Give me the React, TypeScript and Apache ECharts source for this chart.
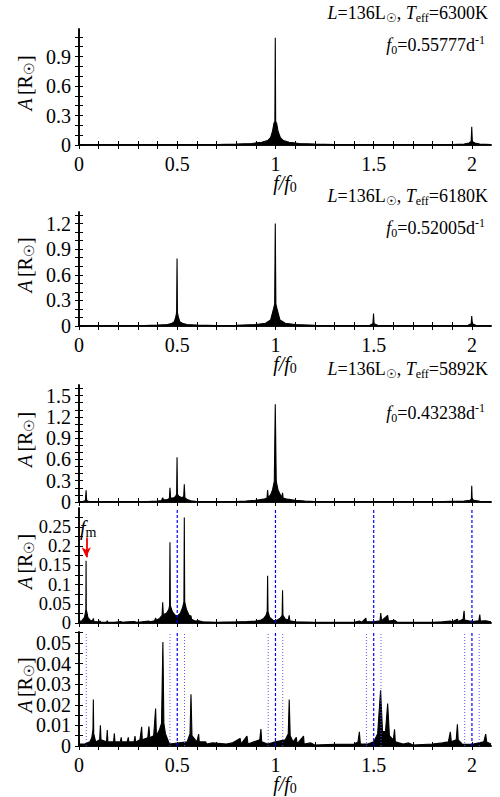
import React, { useEffect, useRef } from "react";
import * as echarts from "echarts";

const FONT = "Liberation Serif";

// x axis
const xMin = 0;
const xMax = 2.097;
const xLabelVals = [0, 0.5, 1, 1.5, 2];
const xTickVals = [0, 0.1, 0.2, 0.3, 0.4, 0.5, 0.6, 0.7, 0.8, 0.9, 1, 1.1, 1.2, 1.3, 1.4, 1.5, 1.6, 1.7, 1.8, 1.9, 2];

// y axes
const y1Max = 1.18;
const y1Labels = [0, 0.3, 0.6, 0.9];
const y1Ticks = [0, 0.1, 0.2, 0.3, 0.4, 0.5, 0.6, 0.7, 0.8, 0.9, 1.0, 1.1];
const y2Max = 1.335;
const y2Labels = [0, 0.3, 0.6, 0.9, 1.2];
const y2Ticks = [0, 0.1, 0.2, 0.3, 0.4, 0.5, 0.6, 0.7, 0.8, 0.9, 1.0, 1.1, 1.2, 1.3];
const y3Max = 1.65;
const y3Labels = [0, 0.3, 0.6, 0.9, 1.2, 1.5];
const y3Ticks = [0, 0.1, 0.2, 0.3, 0.4, 0.5, 0.6, 0.7, 0.8, 0.9, 1.0, 1.1, 1.2, 1.3, 1.4, 1.5, 1.6];
const y4Max = 0.299;
const y4Labels = [0, 0.05, 0.1, 0.15, 0.2, 0.25];
const y4Ticks = [0, 0.025, 0.05, 0.075, 0.1, 0.125, 0.15, 0.175, 0.2, 0.225, 0.25, 0.275];
const y5Max = 0.0553;
const y5Labels = [0, 0.01, 0.02, 0.03, 0.04, 0.05];
const y5Ticks = [0, 0.005, 0.01, 0.015, 0.02, 0.025, 0.03, 0.035, 0.04, 0.045, 0.05, 0.055];

// spectra: [f/f0, amplitude]
const spec1: [number, number][] = [
  [0, 0.001], [0.5, 0.002], [0.7, 0.005], [0.8, 0.009], [0.88, 0.016], [0.93, 0.028], [0.96, 0.045],
  [0.975, 0.075], [0.985, 0.14], [0.992, 0.22], [0.997, 0.24], [0.999, 1.09], [1.001, 0.24], [1.006, 0.22],
  [1.013, 0.14], [1.025, 0.075], [1.04, 0.045], [1.07, 0.028], [1.12, 0.016], [1.2, 0.009], [1.3, 0.005],
  [1.5, 0.002], [1.9, 0.004], [1.96, 0.01], [1.985, 0.02], [1.996, 0.035], [1.999, 0.185], [2.002, 0.035],
  [2.015, 0.02], [2.04, 0.01], [2.097, 0.004],
];
const spec2: [number, number][] = [
  [0, 0.001], [0.3, 0.003], [0.4, 0.01], [0.45, 0.018], [0.47, 0.028], [0.485, 0.05], [0.493, 0.11],
  [0.497, 0.16], [0.499, 0.79], [0.501, 0.16], [0.505, 0.11], [0.513, 0.05], [0.53, 0.028], [0.55, 0.018],
  [0.6, 0.01], [0.7, 0.004], [0.8, 0.008], [0.9, 0.018], [0.95, 0.033], [0.975, 0.07], [0.99, 0.2],
  [0.996, 0.26], [0.999, 1.2], [1.002, 0.26], [1.008, 0.2], [1.023, 0.07], [1.05, 0.033], [1.1, 0.018],
  [1.2, 0.008], [1.4, 0.003], [1.48, 0.008], [1.496, 0.025], [1.499, 0.145], [1.502, 0.025], [1.52, 0.008],
  [1.9, 0.002], [1.98, 0.008], [1.996, 0.025], [1.999, 0.117], [2.002, 0.025], [2.02, 0.008], [2.097, 0.002],
];
const spec3: [number, number][] = [
  [0, 0.003], [0.02, 0.008], [0.033, 0.02], [0.036, 0.165], [0.039, 0.02], [0.05, 0.008], [0.072, 0.005],
  [0.073, 0.012], [0.075, 0.004], [0.2, 0.004], [0.35, 0.006], [0.4, 0.012], [0.42, 0.022], [0.426, 0.06],
  [0.43, 0.03], [0.45, 0.035], [0.46, 0.05], [0.463, 0.2], [0.466, 0.06], [0.48, 0.055], [0.492, 0.08],
  [0.497, 0.11], [0.499, 0.63], [0.501, 0.11], [0.508, 0.08], [0.525, 0.06], [0.533, 0.08], [0.536, 0.25],
  [0.539, 0.06], [0.55, 0.035], [0.57, 0.018], [0.6, 0.008], [0.7, 0.005], [0.8, 0.008], [0.85, 0.015],
  [0.9, 0.025], [0.94, 0.04], [0.957, 0.055], [0.96, 0.17], [0.963, 0.065], [0.975, 0.1], [0.985, 0.17],
  [0.994, 0.29], [0.999, 1.38], [1.004, 0.29], [1.013, 0.17], [1.025, 0.1], [1.033, 0.065], [1.036, 0.13],
  [1.039, 0.055], [1.06, 0.04], [1.1, 0.025], [1.15, 0.015], [1.2, 0.008], [1.3, 0.004], [1.5, 0.005],
  [1.8, 0.003], [1.96, 0.012], [1.99, 0.025], [1.997, 0.04], [1.999, 0.23], [2.001, 0.04], [2.01, 0.025],
  [2.04, 0.01], [2.097, 0.005],
];
const spec4: [number, number][] = [
  [0, 0.004], [0.015, 0.006], [0.028, 0.015], [0.033, 0.028], [0.035, 0.035], [0.036, 0.162], [0.037, 0.035],
  [0.04, 0.028], [0.045, 0.015], [0.055, 0.008], [0.068, 0.005], [0.073, 0.012], [0.076, 0.004], [0.1, 0.003],
  [0.108, 0.005], [0.11, 0.002], [0.14, 0.002], [0.144, 0.006], [0.146, 0.002], [0.18, 0.002], [0.215, 0.004],
  [0.218, 0.002], [0.25, 0.003], [0.285, 0.004], [0.288, 0.002], [0.32, 0.003], [0.356, 0.005], [0.359, 0.003],
  [0.385, 0.006], [0.39, 0.013], [0.393, 0.007], [0.41, 0.012], [0.423, 0.02], [0.426, 0.054], [0.429, 0.022],
  [0.445, 0.025], [0.457, 0.035], [0.461, 0.045], [0.463, 0.21], [0.465, 0.045], [0.475, 0.03], [0.49, 0.02],
  [0.5, 0.018], [0.515, 0.025], [0.527, 0.04], [0.534, 0.055], [0.536, 0.274], [0.538, 0.055], [0.547, 0.035],
  [0.56, 0.02], [0.57, 0.018], [0.573, 0.01], [0.59, 0.005], [0.609, 0.006], [0.63, 0.003], [0.7, 0.002],
  [0.8, 0.003], [0.855, 0.004], [0.9, 0.005], [0.926, 0.008], [0.94, 0.012], [0.952, 0.02], [0.958, 0.03],
  [0.96, 0.123], [0.962, 0.03], [0.97, 0.015], [0.99, 0.006], [1.01, 0.008], [1.025, 0.013], [1.034, 0.02],
  [1.036, 0.085], [1.038, 0.02], [1.05, 0.01], [1.065, 0.008], [1.07, 0.02], [1.073, 0.006], [1.1, 0.003],
  [1.2, 0.002], [1.4, 0.002], [1.427, 0.005], [1.44, 0.002], [1.46, 0.013], [1.463, 0.003], [1.5, 0.003],
  [1.532, 0.006], [1.536, 0.026], [1.54, 0.006], [1.571, 0.02], [1.575, 0.005], [1.606, 0.007], [1.62, 0.002],
  [1.8, 0.002], [1.85, 0.003], [1.89, 0.005], [1.9, 0.003], [1.926, 0.01], [1.93, 0.004], [1.955, 0.01],
  [1.96, 0.032], [1.963, 0.008], [2.0, 0.004], [2.035, 0.006], [2.04, 0.022], [2.043, 0.005], [2.07, 0.006],
  [2.097, 0.003],
];
const spec5: [number, number][] = [
  [0, 0.001], [0.03, 0.001], [0.055, 0.002], [0.065, 0.004], [0.071, 0.008], [0.073, 0.0226], [0.075, 0.006],
  [0.085, 0.002], [0.105, 0.003], [0.109, 0.0101], [0.112, 0.003], [0.14, 0.002], [0.144, 0.0077], [0.147, 0.002],
  [0.176, 0.002], [0.18, 0.0061], [0.183, 0.002], [0.21, 0.002], [0.215, 0.0042], [0.218, 0.002], [0.245, 0.002],
  [0.251, 0.0042], [0.254, 0.002], [0.28, 0.002], [0.285, 0.0048], [0.288, 0.002], [0.31, 0.003], [0.319, 0.0093],
  [0.322, 0.003], [0.35, 0.004], [0.356, 0.0095], [0.36, 0.004], [0.38, 0.005], [0.39, 0.0182], [0.394, 0.005],
  [0.41, 0.008], [0.42, 0.011], [0.427, 0.0504], [0.432, 0.011], [0.44, 0.006], [0.46, 0.001], [0.55, 0.002],
  [0.565, 0.006], [0.57, 0.0251], [0.575, 0.005], [0.6, 0.002], [0.609, 0.0058], [0.612, 0.002], [0.645, 0.002],
  [0.65, 0.001], [0.68, 0.0015], [0.75, 0.001], [0.78, 0.0015], [0.82, 0.0037], [0.825, 0.001], [0.855, 0.0048],
  [0.86, 0.001], [0.89, 0.002], [0.92, 0.003], [0.926, 0.0082], [0.93, 0.002], [0.96, 0.001], [1.0, 0.002],
  [1.05, 0.003], [1.065, 0.006], [1.07, 0.0226], [1.075, 0.005], [1.09, 0.002], [1.106, 0.0042], [1.11, 0.001],
  [1.143, 0.0048], [1.146, 0.001], [1.18, 0.0015], [1.2, 0.0005], [1.3, 0.0008], [1.4, 0.001], [1.42, 0.002],
  [1.427, 0.0069], [1.432, 0.001], [1.47, 0.001], [1.5, 0.002], [1.52, 0.006], [1.535, 0.027], [1.545, 0.007],
  [1.56, 0.007], [1.571, 0.0206], [1.58, 0.005], [1.6, 0.003], [1.606, 0.0081], [1.61, 0.002], [1.65, 0.001],
  [1.678, 0.0015], [1.7, 0.0005], [1.8, 0.001], [1.85, 0.0015], [1.88, 0.002], [1.89, 0.0069], [1.895, 0.002],
  [1.92, 0.003], [1.926, 0.0105], [1.93, 0.003], [1.95, 0.001], [2.0, 0.0008], [2.06, 0.002], [2.07, 0.0058],
  [2.075, 0.002], [2.097, 0.001],
];

// harmonic lines and side-peak lines (f/f0)
const harmonics = [0.5, 1, 1.5, 2];
const fm = 0.037;
const sideLines = [0.037, 0.463, 0.537, 0.963, 1.037, 1.463, 1.537, 1.963, 2.037];
const arrowFrom = 0.222;
const arrowTo = 0.171;

const titles = [
  { L: "136", T: "6300", f0: "0.55777" },
  { L: "136", T: "6180", f0: "0.52005" },
  { L: "136", T: "5892", f0: "0.43238" },
];

const panels = [
  { top: 29, height: 116, data: spec1, yMax: y1Max, yLabels: y1Labels, yTicks: y1Ticks, xLabels: true, fs: 20 },
  { top: 212, height: 114, data: spec2, yMax: y2Max, yLabels: y2Labels, yTicks: y2Ticks, xLabels: true, fs: 20 },
  { top: 385, height: 117, data: spec3, yMax: y3Max, yLabels: y3Labels, yTicks: y3Ticks, xLabels: false, fs: 20 },
  { top: 508, height: 115, data: spec4, yMax: y4Max, yLabels: y4Labels, yTicks: y4Ticks, xLabels: false, fs: 18.5 },
  { top: 632, height: 114, data: spec5, yMax: y5Max, yLabels: y5Labels, yTicks: y5Ticks, xLabels: true, fs: 20 },
];

const LEFT = 79;
const WIDTH = 412;

const rich = {
  n: { fontFamily: FONT, fontSize: 18, lineHeight: 22, verticalAlign: "middle", fill: "#000" },
  i: { fontFamily: FONT, fontSize: 18, lineHeight: 22, fontStyle: "italic", verticalAlign: "middle", fill: "#000" },
  s: { fontFamily: FONT, fontSize: 12, lineHeight: 12, verticalAlign: "bottom", fill: "#000" },
  u: { fontFamily: FONT, fontSize: 12, lineHeight: 12, verticalAlign: "top", fill: "#000" },
  ib: { fontFamily: FONT, fontSize: 20, lineHeight: 22, fontStyle: "italic", verticalAlign: "middle", fill: "#000" },
  nb: { fontFamily: FONT, fontSize: 20, lineHeight: 22, verticalAlign: "middle", fill: "#000" },
  sb: { fontFamily: FONT, fontSize: 14, lineHeight: 14, verticalAlign: "bottom", fill: "#000" },
};

function buildOption() {
  const grid: any[] = [];
  const xAxis: any[] = [];
  const yAxis: any[] = [];
  const series: any[] = [];
  const graphic: any[] = [];
  const axisLine = { show: true, lineStyle: { color: "#000", width: 1.6 } };
  const tick = (vals: number[]) => ({
    show: true, inside: true, length: 4, customValues: vals, lineStyle: { color: "#000", width: 1 },
  });
  const fmtLabel = (v: number) => `{t|${String(v)}}`;

  panels.forEach((p, i) => {
    const tickRich = { t: { fontFamily: FONT, fontSize: p.fs, lineHeight: 13, color: "#000" } };
    grid.push({ left: LEFT, top: p.top, width: WIDTH, height: p.height });
    xAxis.push({
      type: "value", gridIndex: i, min: xMin, max: xMax, position: "bottom",
      axisLine, splitLine: { show: false }, axisTick: tick(xTickVals),
      axisLabel: {
        show: p.xLabels, customValues: xLabelVals, margin: 12, formatter: fmtLabel, rich: tickRich,
        fontSize: p.fs, lineHeight: 13, showMinLabel: true, showMaxLabel: true, hideOverlap: false,
      },
    });
    xAxis.push({
      type: "value", gridIndex: i, min: xMin, max: xMax, position: "top",
      axisLine, splitLine: { show: false }, axisTick: tick(xTickVals), axisLabel: { show: false },
    });
    yAxis.push({
      type: "value", gridIndex: i, min: 0, max: p.yMax, position: "left",
      axisLine, splitLine: { show: false }, axisTick: tick(p.yTicks),
      axisLabel: {
        show: true, customValues: p.yLabels, margin: 8, formatter: fmtLabel, rich: tickRich,
        fontSize: p.fs, lineHeight: 13, showMinLabel: true, showMaxLabel: true, hideOverlap: false,
      },
    });
    yAxis.push({
      type: "value", gridIndex: i, min: 0, max: p.yMax, position: "right",
      axisLine, splitLine: { show: false }, axisTick: tick(p.yTicks), axisLabel: { show: false },
    });
    series.push({
      type: "line", xAxisIndex: i * 2, yAxisIndex: i * 2, data: p.data,
      showSymbol: false, symbol: "none", silent: true, clip: true, z: 2,
      color: "#000",
      lineStyle: { color: "#000", width: 1.1 },
      areaStyle: { color: "#000", opacity: 1 },
    });

    if (i === 3 || i === 4) {
      harmonics.forEach((h) =>
        series.push({
          type: "line", xAxisIndex: i * 2, yAxisIndex: i * 2, data: [[h, 0], [h, p.yMax]],
          showSymbol: false, symbol: "none", silent: true, z: 4, color: "#0000ff",
          lineStyle: { color: "#0000ff", width: 1.2, type: [3, 2], opacity: 1 },
        })
      );
    }
    if (i === 4) {
      sideLines.forEach((v) =>
        series.push({
          type: "line", xAxisIndex: i * 2, yAxisIndex: i * 2, data: [[v, 0], [v, p.yMax]],
          showSymbol: false, symbol: "none", silent: true, z: 4, color: "#5a5aff",
          lineStyle: { color: "#5a5aff", width: 1, type: [1, 2], opacity: 1 },
        })
      );
    }
    if (i === 3) {
      series.push({
        type: "line", xAxisIndex: i * 2, yAxisIndex: i * 2, data: [],
        silent: true, z: 5, color: "#ee0000",
        markLine: {
          silent: true, animation: false, symbol: ["none", "arrow"], symbolSize: [7, 10],
          label: { show: false },
          lineStyle: { color: "#ee0000", width: 1.8, type: "solid" },
          itemStyle: { color: "#ee0000" },
          data: [[{ coord: [fm, arrowFrom] }, { coord: [fm, arrowTo] }]],
        },
      });
    }

    // y axis name
    graphic.push({
      type: "text", x: 25, y: p.top + p.height / 2 - 4, rotation: Math.PI / 2,
      style: { text: "{ib|A} {nb|[R}{sb|☉}{nb|]}", align: "center", verticalAlign: "middle", rich },
    });
    if (p.xLabels) {
      graphic.push({
        type: "text", x: LEFT + WIDTH / 2, y: p.top + p.height + 38,
        style: { text: "{ib|f/f}{sb|0}", align: "center", verticalAlign: "middle", rich },
      });
    }
    if (i < 3) {
      const t = titles[i];
      graphic.push({
        type: "text", x: 488, y: p.top - 16,
        style: {
          text: `{i|L}{n|=${t.L}L}{s|☉}{n|, }{i|T}{s|eff}{n|=${t.T}K}`,
          align: "right", verticalAlign: "middle", rich,
        },
      });
      graphic.push({
        type: "text", x: 485, y: p.top + (i === 2 ? 28 : 16),
        style: { text: `{i|f}{s|0}{n|=${t.f0}d}{u|-1}`, align: "right", verticalAlign: "middle", rich },
      });
    }
  });

  graphic.push({
    type: "text", x: 80, y: 528,
    style: { text: "{ib|f}{sb|m}", align: "left", verticalAlign: "middle", rich },
  });

  return {
    animation: false,
    backgroundColor: "#fff",
    textStyle: { fontFamily: FONT },
    grid, xAxis, yAxis, series, graphic,
  };
}

export default function App() {
  const ref = useRef<HTMLDivElement>(null);
  useEffect(() => {
    document.body.style.margin = "0";
    const chart = echarts.init(ref.current!, null, { renderer: "svg" });
    chart.setOption(buildOption() as any);
    return () => chart.dispose();
  }, []);
  return <div ref={ref} style={{ width: 500, height: 797 }} />;
}
